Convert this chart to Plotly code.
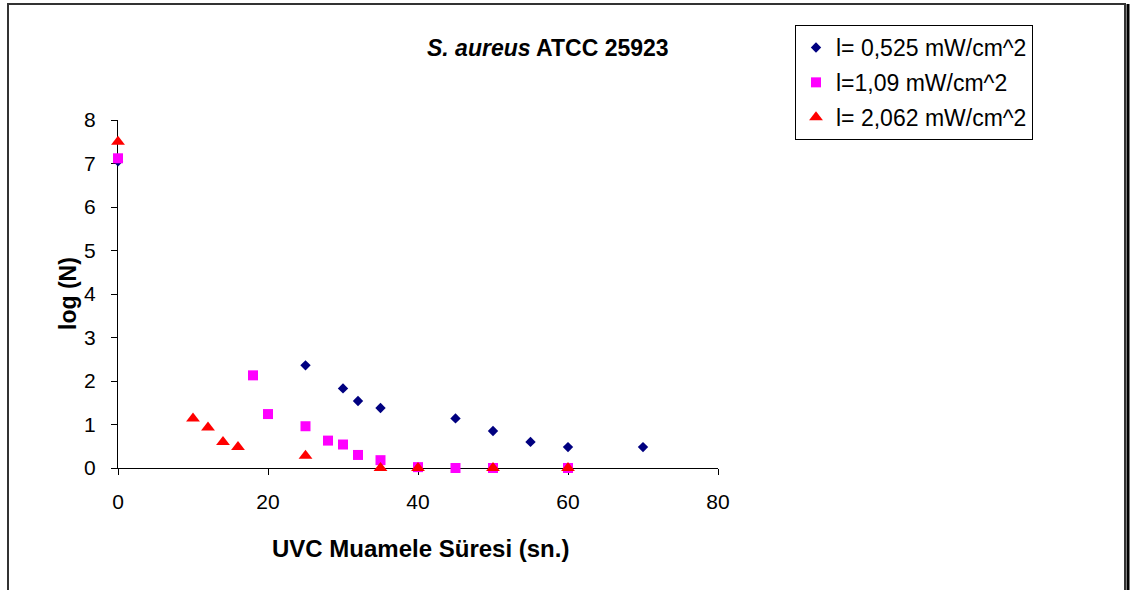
import plotly.graph_objects as go

# UVC exposure time (s) and log(N) survivor counts for each irradiance
time_low = [0, 25, 30, 32, 35, 45, 50, 55, 60, 70]
logn_low = [7.05, 2.36, 1.83, 1.54, 1.38, 1.14, 0.85, 0.60, 0.48, 0.48]

time_mid = [0, 18, 20, 25, 28, 30, 32, 35, 40, 45, 50, 60]
logn_mid = [7.12, 2.13, 1.24, 0.96, 0.63, 0.54, 0.30, 0.18, 0.02, 0.0, 0.0, 0.0]

time_high = [0, 10, 12, 14, 16, 25, 35, 40, 50, 60]
logn_high = [7.5, 1.14, 0.93, 0.60, 0.48, 0.28, 0.0, 0.0, 0.0, 0.0]

series_names = ["l= 0,525 mW/cm^2", "l=1,09 mW/cm^2", "l= 2,062 mW/cm^2"]
x_ticks = [0, 20, 40, 60, 80]
y_ticks = [0, 1, 2, 3, 4, 5, 6, 7, 8]

FONT = "Liberation Sans, Arial, sans-serif"

# plot-area geometry in pixels
W, H = 1131, 590
L, R, T, B = 118, 413, 120, 122
PW, PH = W - L - R, H - T - B


def px_x(p):
    return (p - L) / PW


def px_y(p):
    return (H - B - p) / PH


fig = go.Figure()
fig.add_trace(go.Scatter(
    x=time_low, y=logn_low, mode="markers", name=series_names[0],
    legendgroup="a", cliponaxis=False,
    marker=dict(symbol="diamond", size=8, color="#000080"),
))
fig.add_trace(go.Scatter(
    x=time_mid, y=logn_mid, mode="markers", name=series_names[1],
    legendgroup="b", cliponaxis=False,
    marker=dict(symbol="square", size=10, color="#FF00FF"),
))
fig.add_trace(go.Scatter(
    x=time_high, y=logn_high, mode="markers", name=series_names[2],
    legendgroup="c", cliponaxis=False,
    marker=dict(symbol="triangle-up", size=12, color="#FF0000"),
))

axis_common = dict(
    showgrid=False, zeroline=False, showline=True, linecolor="black",
    linewidth=1, ticks="outside", ticklen=6, tickcolor="black",
    layer="below traces",
    tickfont=dict(family=FONT, size=21, color="black"),
)

fig.update_layout(
    width=W, height=H,
    margin=dict(l=L, r=R, t=T, b=B),
    paper_bgcolor="white", plot_bgcolor="white",
    font=dict(family=FONT, color="black"),
    xaxis=dict(range=[0, 80], tickvals=x_ticks, ticklabelstandoff=9,
               **axis_common),
    yaxis=dict(range=[0, 8], tickvals=y_ticks, ticklabelstandoff=11,
               **axis_common),
    legend=dict(
        x=px_x(795), y=px_y(25), xanchor="left", yanchor="top",
        xref="paper", yref="paper",
        bordercolor="black", borderwidth=1, bgcolor="white",
        font=dict(family=FONT, size=23, color="black"),
        traceorder="grouped", tracegroupgap=2,
    ),
    showlegend=True,
)

# chart title
fig.add_annotation(
    text="<b><i>S. aureus</i> ATCC 25923</b>", x=px_x(548), y=px_y(48),
    xref="paper", yref="paper", xanchor="center", yanchor="middle",
    showarrow=False, font=dict(family=FONT, size=23, color="black"),
)

# axis titles
fig.add_annotation(
    text="<b>UVC Muamele Süresi (sn.)</b>", x=px_x(420), y=px_y(548),
    xref="paper", yref="paper", xanchor="center", yanchor="middle",
    showarrow=False, font=dict(family=FONT, size=24, color="black"),
)
fig.add_annotation(
    text="<b>log (N)</b>", x=px_x(68), y=px_y(294), textangle=-90,
    xref="paper", yref="paper", xanchor="center", yanchor="middle",
    showarrow=False, font=dict(family=FONT, size=23, color="black"),
)

# chart frame
fig.add_shape(type="rect", xref="paper", yref="paper",
              x0=px_x(8), x1=px_x(1125), y0=px_y(640), y1=px_y(4),
              line=dict(color="#333333", width=2), layer="below")
fig.add_shape(type="line", xref="paper", yref="paper",
              x0=px_x(1128), x1=px_x(1128), y0=px_y(640), y1=px_y(4),
              line=dict(color="black", width=3))

fig.write_html("out.html")
